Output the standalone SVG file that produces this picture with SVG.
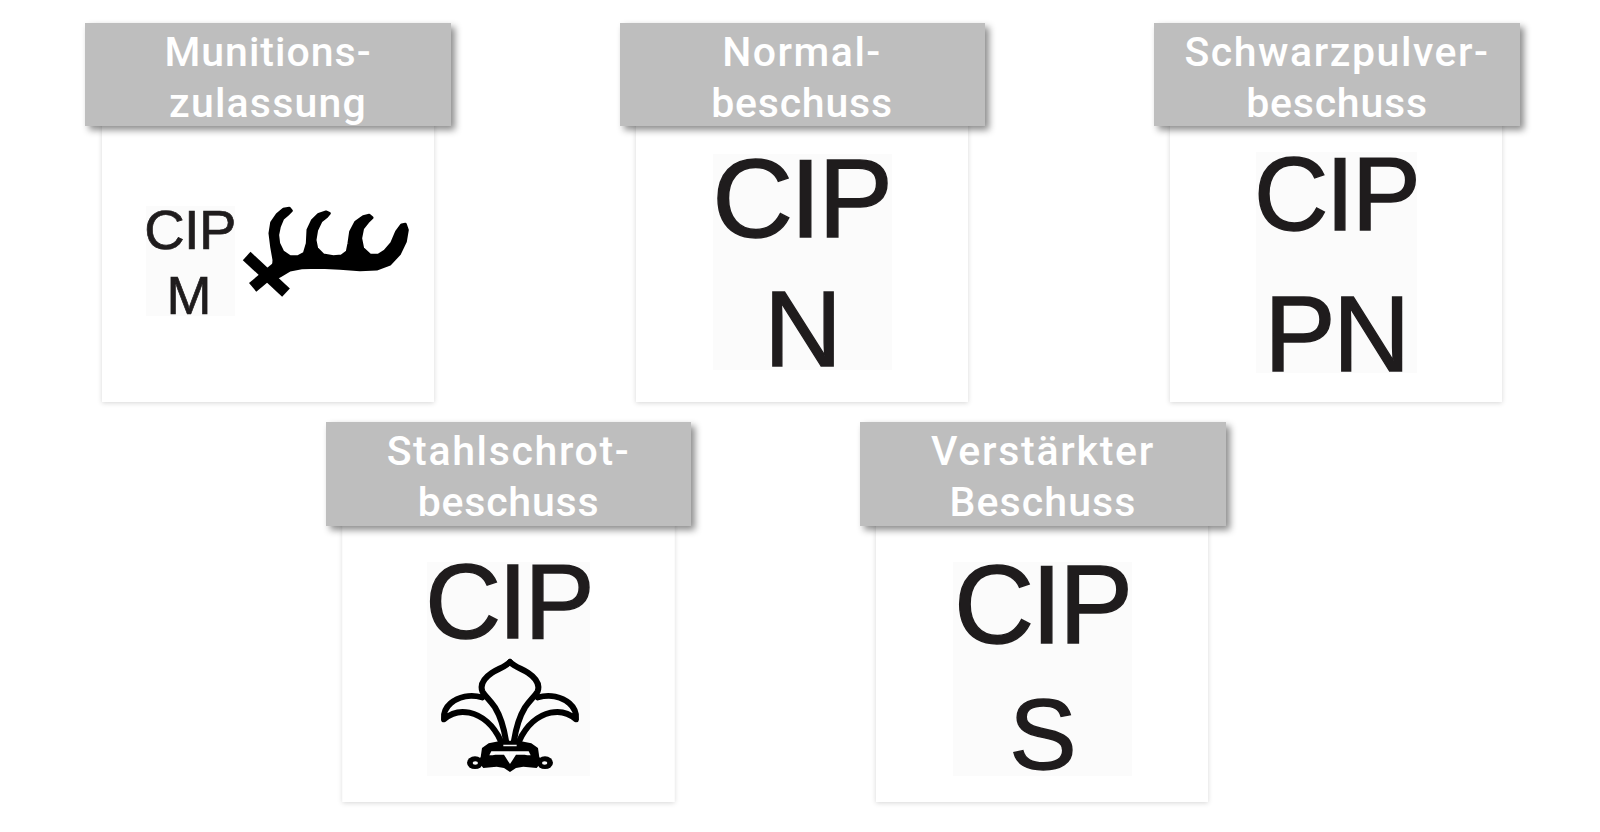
<svg xmlns="http://www.w3.org/2000/svg" width="1600" height="832" viewBox="0 0 1600 832">
<style>
.hd{fill:#bebebe;filter:url(#hs)}
.cd{fill:#fff;filter:url(#cs)}
.bg{fill:#fbfbfb}
.t{font-family:"Roboto","Liberation Sans",sans-serif;font-weight:500;font-size:41px;fill:#fff;text-anchor:middle;letter-spacing:1.2px}
.m{font-family:"Liberation Sans",Arial,sans-serif;fill:#1f1c1d;stroke:#1f1c1d;stroke-width:1.4px;text-anchor:middle}
.s{stroke-width:.7px}
.fl{fill:none;stroke:#000;stroke-linejoin:round;stroke-linecap:round}
</style>
<defs>
<filter id="hs" x="-5%" y="-10%" width="112%" height="125%"><feDropShadow dx="4" dy="4" stdDeviation="3.5" flood-color="#000" flood-opacity=".45"/></filter>
<filter id="cs" x="-5%" y="-5%" width="110%" height="110%"><feDropShadow dx="0" dy="1" stdDeviation="2.5" flood-color="#000" flood-opacity=".16"/></filter>
<g id="half">
<path class="fl" stroke-width="18" d="M240,36C226,50 205,56 186,68C162,84 150,104 157,124C164,137 180,150 195,172C212,200 222,235 228,272"/>
<path class="fl" stroke-width="18" d="M157,142C120,132 85,140 62,160C48,172 40,190 42,208C62,190 90,182 118,188C155,196 190,225 212,272"/>
<path d="M240,272H214L176,280L156,294L152,322L140,330L160,354L200,350L222,354L240,366Z"/>
<path class="bg" d="M240,284H220V289H240ZM240,304H184L178,316H188L196,314H222L232,330L240,342Z"/>
<ellipse cx="135" cy="338" rx="24" ry="19"/>
<ellipse class="bg" cx="136" cy="339" rx="8" ry="5"/>
</g>
</defs>
<rect width="1600" height="832" fill="#fff"/>

<g id="node-munition">
<rect class="cd" x="102" y="118" width="332" height="284"/>
<rect class="hd" x="85" y="23" width="366" height="103"/>
<text class="t" x="268" y="66" style="letter-spacing:1px">Munitions-</text>
<text class="t" x="268" y="117">zulassung</text>
<rect class="bg" x="146" y="206" width="89" height="110"/>
<text class="m s" x="190" y="249" font-size="56" letter-spacing="-.6">CIP</text>
<text class="m s" x="189" y="314" font-size="54">M</text>
<g transform="translate(120 180) scale(.3333)" id="antler">
<path stroke="#000" stroke-width="9" stroke-linejoin="round" d="M460,270L462,240L455,200L450,160L455,128L472,103L490,88L508,85L514,92L503,103L488,116L478,140L473,165L476,190L488,215L510,230L535,230L553,220L562,190L564,150L577,122L596,103L618,96L628,100L620,110L603,123L590,150L585,180L590,205L610,225L640,230L665,228L682,215L687,190L692,155L707,127L730,110L748,106L756,113L743,126L728,145L722,175L728,205L750,225L775,226L795,213L815,190L830,155L845,135L856,133L862,150L856,185L838,222L810,252L770,267L720,269L660,265L600,262L545,263L510,270L480,288L460,298Z"/>
<path d="M380,228L498,338" fill="none" stroke="#000" stroke-width="34"/>
<path d="M398,322L470,262" fill="none" stroke="#000" stroke-width="34"/>
</g>
</g>

<g id="node-normal">
<rect class="cd" x="636" y="118" width="332" height="284"/>
<rect class="hd" x="620" y="23" width="365" height="103"/>
<text class="t" x="802" y="66" style="letter-spacing:1.5px">Normal-</text>
<text class="t" x="802" y="117" style="letter-spacing:.8px">beschuss</text>
<rect class="bg" x="713" y="154" width="179" height="216"/>
<text class="m" x="801" y="237" font-size="112" letter-spacing="-3">CIP</text>
<text class="m" x="803" y="366" font-size="108">N</text>
</g>

<g id="node-schwarzpulver">
<rect class="cd" x="1170" y="118" width="332" height="284"/>
<rect class="hd" x="1154" y="23" width="366" height="103"/>
<text class="t" x="1337" y="66" style="letter-spacing:1.55px">Schwarzpulver-</text>
<text class="t" x="1337" y="117" style="letter-spacing:.8px">beschuss</text>
<rect class="bg" x="1256" y="152" width="161" height="221"/>
<text class="m" x="1336" y="230" font-size="103" letter-spacing="-2.500">CIP</text>
<text class="m" x="1336" y="371" font-size="107" letter-spacing="-2.500">PN</text>
</g>

<g id="node-stahlschrot">
<rect class="cd" x="342.500" y="518" width="332" height="284"/>
<rect class="hd" x="326" y="422" width="365" height="104"/>
<text class="t" x="508.500" y="465" style="letter-spacing:1.65px">Stahlschrot-</text>
<text class="t" x="508.500" y="516" style="letter-spacing:.8px">beschuss</text>
<rect class="bg" x="427" y="562" width="163" height="214"/>
<text class="m" x="508.500" y="638" font-size="105" letter-spacing="-2.800">CIP</text>
<g id="fleur" transform="translate(430 650) scale(.3333)">
<use href="#half"/>
<use href="#half" transform="translate(480 0) scale(-1 1)"/>
</g>
</g>

<g id="node-verstaerkt">
<rect class="cd" x="876" y="518" width="332" height="284"/>
<rect class="hd" x="860" y="422" width="366" height="104"/>
<text class="t" x="1043" y="465" style="letter-spacing:1.75px">Verstärkter</text>
<text class="t" x="1043" y="516" style="letter-spacing:1.1px">Beschuss</text>
<rect class="bg" x="953" y="562" width="179" height="214"/>
<text class="m" x="1042" y="643" font-size="111" letter-spacing="-3">CIP</text>
<text class="m" x="1043" y="769" font-size="101">S</text>
</g>
</svg>
